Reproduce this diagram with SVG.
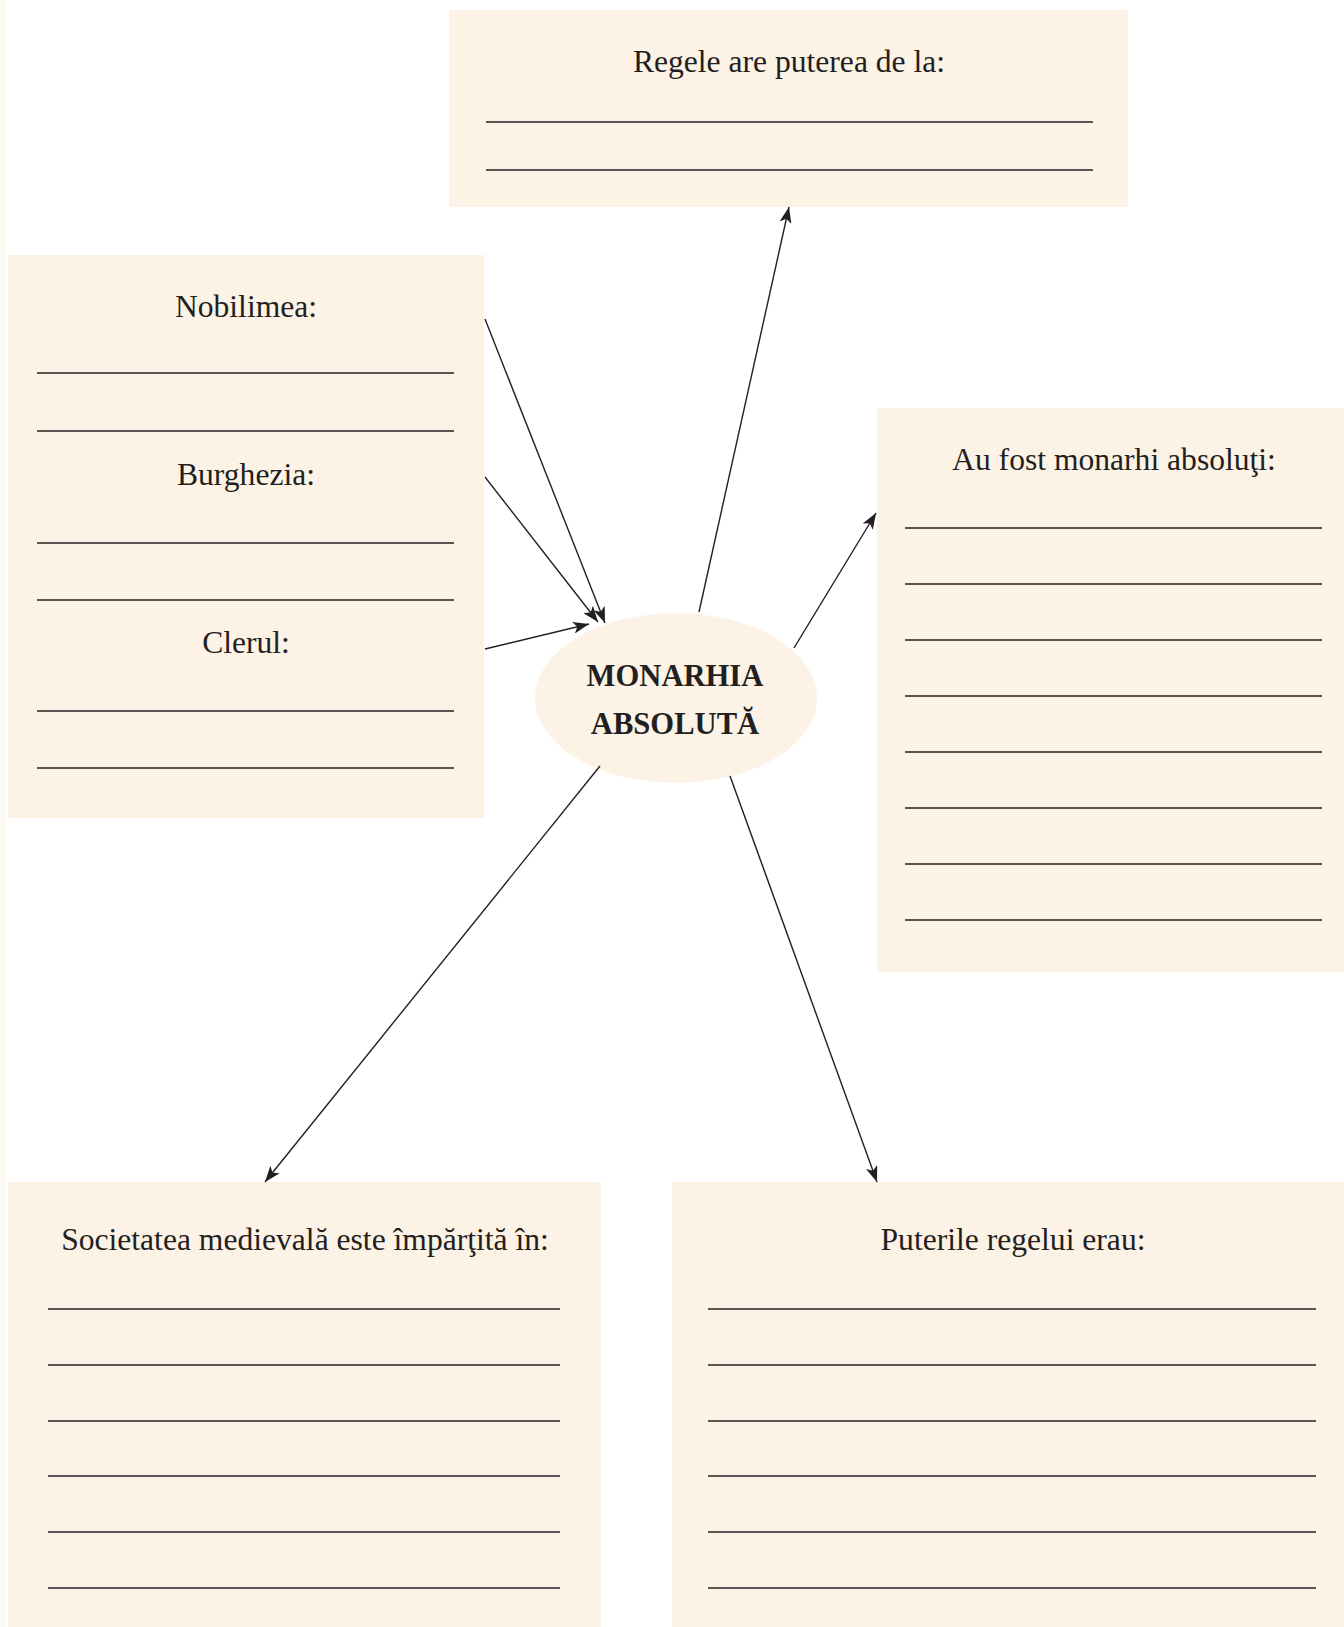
<svg xmlns="http://www.w3.org/2000/svg" width="1344" height="1627" viewBox="0 0 1344 1627">
<style>
.box{fill:#fdf2e6}
.t{font-family:"Liberation Serif","Times New Roman",serif;font-size:31.6px;fill:#231f20;text-anchor:middle}
.b{font-weight:bold;font-size:30.6px}
.bl{stroke:#231f20;stroke-width:1.5}
.c{stroke:#231f20;stroke-width:1.4;fill:none;marker-end:url(#ah)}
</style>
<defs>
<marker id="ah" markerUnits="userSpaceOnUse" markerWidth="18" markerHeight="12" refX="16" refY="6" orient="auto">
<path d="M0,0 L16,6 L0,12 L4,6 Z" fill="#231f20"/>
</marker>
</defs>
<rect x="0" y="0" width="1344" height="1627" fill="#ffffff"/>
<rect x="0" y="0" width="6" height="1627" fill="#fcf9f3"/>

<g id="node-regele">
<rect class="box" x="449" y="10" width="679" height="197"/>
<text class="t" x="789" y="72">Regele are puterea de la:</text>
<line class="bl" x1="486" y1="122" x2="1093" y2="122"/>
<line class="bl" x1="486" y1="170" x2="1093" y2="170"/>
</g>

<g id="node-clase">
<rect class="box" x="8" y="255" width="476" height="563"/>
<text class="t" x="246" y="317">Nobilimea:</text>
<line class="bl" x1="37" y1="373" x2="454" y2="373"/>
<line class="bl" x1="37" y1="431" x2="454" y2="431"/>
<text class="t" x="246" y="485">Burghezia:</text>
<line class="bl" x1="37" y1="543" x2="454" y2="543"/>
<line class="bl" x1="37" y1="600" x2="454" y2="600"/>
<text class="t" x="246" y="653">Clerul:</text>
<line class="bl" x1="37" y1="711" x2="454" y2="711"/>
<line class="bl" x1="37" y1="768" x2="454" y2="768"/>
</g>

<g id="node-monarhia">
<ellipse class="box" cx="676" cy="698" rx="141" ry="85"/>
<text class="t b" x="675" y="686">MONARHIA</text>
<text class="t b" x="675" y="734">ABSOLUTĂ</text>
</g>

<g id="node-monarhi">
<rect class="box" x="877" y="408" width="467" height="564"/>
<text class="t" x="1114" y="470">Au fost monarhi absoluţi:</text>
<line class="bl" x1="905" y1="528" x2="1322" y2="528"/>
<line class="bl" x1="905" y1="584" x2="1322" y2="584"/>
<line class="bl" x1="905" y1="640" x2="1322" y2="640"/>
<line class="bl" x1="905" y1="696" x2="1322" y2="696"/>
<line class="bl" x1="905" y1="752" x2="1322" y2="752"/>
<line class="bl" x1="905" y1="808" x2="1322" y2="808"/>
<line class="bl" x1="905" y1="864" x2="1322" y2="864"/>
<line class="bl" x1="905" y1="920" x2="1322" y2="920"/>
</g>

<g id="node-societatea">
<rect class="box" x="8" y="1182" width="593" height="445"/>
<text class="t" x="305" y="1250">Societatea medievală este împărţită în:</text>
<line class="bl" x1="48" y1="1309" x2="560" y2="1309"/>
<line class="bl" x1="48" y1="1365" x2="560" y2="1365"/>
<line class="bl" x1="48" y1="1421" x2="560" y2="1421"/>
<line class="bl" x1="48" y1="1476" x2="560" y2="1476"/>
<line class="bl" x1="48" y1="1532" x2="560" y2="1532"/>
<line class="bl" x1="48" y1="1588" x2="560" y2="1588"/>
</g>

<g id="node-puterile">
<rect class="box" x="672" y="1182" width="672" height="445"/>
<text class="t" x="1013" y="1250">Puterile regelui erau:</text>
<line class="bl" x1="708" y1="1309" x2="1316" y2="1309"/>
<line class="bl" x1="708" y1="1365" x2="1316" y2="1365"/>
<line class="bl" x1="708" y1="1421" x2="1316" y2="1421"/>
<line class="bl" x1="708" y1="1476" x2="1316" y2="1476"/>
<line class="bl" x1="708" y1="1532" x2="1316" y2="1532"/>
<line class="bl" x1="708" y1="1588" x2="1316" y2="1588"/>
</g>

<g id="connectors">
<line class="c" x1="485" y1="319" x2="605" y2="623"/>
<line class="c" x1="485" y1="477" x2="598" y2="622"/>
<line class="c" x1="485" y1="649" x2="589" y2="624"/>
<line class="c" x1="699" y1="612" x2="789" y2="207"/>
<line class="c" x1="794" y1="648" x2="876" y2="513"/>
<line class="c" x1="600" y1="766" x2="265" y2="1182"/>
<line class="c" x1="730" y1="776" x2="877" y2="1182"/>
</g>
</svg>
